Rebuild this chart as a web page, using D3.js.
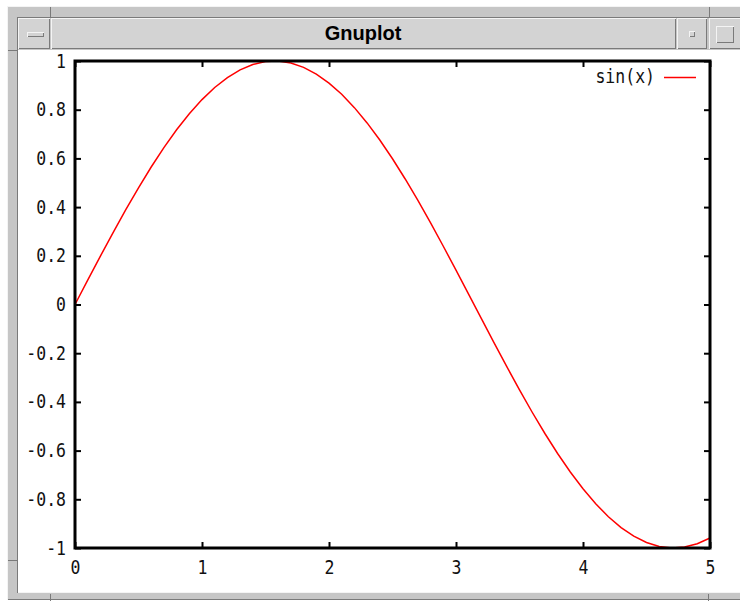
<!DOCTYPE html>
<html>
<head>
<meta charset="utf-8">
<script src="https://cdn.jsdelivr.net/npm/d3@7"></script>
<style>
  html, body { margin: 0; padding: 0; background: #fff; }
  svg { display: block; }
  .tick text { font-family: "DejaVu Sans Mono", "Liberation Mono", monospace; font-size: 16.5px; fill: #111; }
</style>
</head>
<body>
<svg width="740" height="604"></svg>
<script>
// sin(x) sampled on [0, 5]
const xs = [0.0, 0.1, 0.2, 0.3, 0.4, 0.5, 0.6, 0.7, 0.8, 0.9,
            1.0, 1.1, 1.2, 1.3, 1.4, 1.5, 1.6, 1.7, 1.8, 1.9,
            2.0, 2.1, 2.2, 2.3, 2.4, 2.5, 2.6, 2.7, 2.8, 2.9,
            3.0, 3.1, 3.2, 3.3, 3.4, 3.5, 3.6, 3.7, 3.8, 3.9,
            4.0, 4.1, 4.2, 4.3, 4.4, 4.5, 4.6, 4.7, 4.8, 4.9, 5.0];
const ys = [0, 0.0998, 0.1987, 0.2955, 0.3894, 0.4794, 0.5646, 0.6442, 0.7174, 0.7833,
            0.8415, 0.8912, 0.9320, 0.9636, 0.9854, 0.9975, 0.9996, 0.9917, 0.9738, 0.9463,
            0.9093, 0.8632, 0.8085, 0.7457, 0.6755, 0.5985, 0.5155, 0.4274, 0.3350, 0.2392,
            0.1411, 0.0416, -0.0584, -0.1577, -0.2555, -0.3508, -0.4425, -0.5298, -0.6119, -0.6878,
            -0.7568, -0.8183, -0.8716, -0.9162, -0.9516, -0.9775, -0.9937, -0.9999, -0.9962, -0.9825,
            -0.9589];
const xTicks = [0, 1, 2, 3, 4, 5];
const yTicks = [-1, -0.8, -0.6, -0.4, -0.2, 0, 0.2, 0.4, 0.6, 0.8, 1];
const seriesName = 'sin(x)';
const windowTitle = 'Gnuplot';

const svg = d3.select('svg');

// ---- window decoration (motif style) ----
const light = '#f4f4f4', dark = '#7a7a7a';

function bevel(g, x, y, w, h, fill, raised) {
    g.append('rect').attr('x', x).attr('y', y).attr('width', w).attr('height', h).attr('fill', fill);
    const hi = raised ? light : dark;
    const lo = raised ? dark : light;
    g.append('path').attr('d', `M${x + 0.5},${y + h - 0.5}V${y + 0.5}H${x + w - 0.5}`)
        .attr('stroke', hi).attr('fill', 'none');
    g.append('path').attr('d', `M${x + 0.5},${y + h - 0.5}H${x + w - 0.5}V${y + 0.5}`)
        .attr('stroke', lo).attr('fill', 'none');
}

const deco = svg.append('g').attr('shape-rendering', 'crispEdges');
bevel(deco, 7, 6, 760, 594, '#c6c6c6', true);
bevel(deco, 17, 17, 760, 576, '#c6c6c6', false);

// corner notches
[[50, 6, 50, 17], [7, 50, 17, 50], [7, 560, 17, 560], [50, 593, 50, 600],
 [709, 6, 709, 17], [708, 593, 708, 600]].forEach(([x1, y1, x2, y2]) => {
    deco.append('line').attr('x1', x1 + 0.5).attr('y1', y1 + 0.5).attr('x2', x2 + 0.5).attr('y2', y2 + 0.5)
        .attr('stroke', dark);
});

// menu button
bevel(deco, 18, 18, 32, 31, '#d3d3d3', true);
bevel(deco, 27, 32, 17, 5, '#d3d3d3', true);
// title bar
bevel(deco, 51, 18, 625, 31, '#d3d3d3', true);
// minimize / maximize
bevel(deco, 677, 18, 30, 31, '#d3d3d3', true);
bevel(deco, 689, 31, 6, 6, '#d3d3d3', true);
bevel(deco, 709, 18, 40, 31, '#d3d3d3', true);
bevel(deco, 716, 26, 18, 17, '#d3d3d3', true);

svg.append('text')
    .attr('x', 363).attr('y', 40)
    .attr('text-anchor', 'middle')
    .attr('font-family', 'Liberation Sans, Arial, sans-serif')
    .attr('font-weight', 'bold')
    .attr('font-size', 20)
    .attr('fill', '#000')
    .text(windowTitle);

// drawing area
svg.append('rect').attr('x', 18).attr('y', 50).attr('width', 740).attr('height', 542).attr('fill', '#fff');

// ---- plot ----
const plotLeft = 75, plotRight = 710, plotTop = 61, plotBottom = 548;
const x = d3.scaleLinear().domain([0, 5]).range([plotLeft, plotRight]);
const y = d3.scaleLinear().domain([-1, 1]).range([plotBottom, plotTop]);

const fmt = d => String(d);

const yAxis = svg.append('g').attr('transform', `translate(${plotLeft},0)`)
    .call(d3.axisLeft(y).tickValues(yTicks).tickSize(-6).tickPadding(9).tickFormat(fmt));
const xAxis = svg.append('g').attr('transform', `translate(0,${plotBottom})`)
    .call(d3.axisBottom(x).tickValues(xTicks).tickSize(-6).tickPadding(11).tickFormat(fmt));
const yMirror = svg.append('g').attr('transform', `translate(${plotRight},0)`)
    .call(d3.axisRight(y).tickValues(yTicks).tickSize(-6).tickFormat(''));
const xMirror = svg.append('g').attr('transform', `translate(0,${plotTop})`)
    .call(d3.axisTop(x).tickValues(xTicks).tickSize(-6).tickFormat(''));

[yAxis, xAxis, yMirror, xMirror].forEach(g => {
    g.select('.domain').remove();
    g.selectAll('.tick line').attr('stroke', '#000').attr('stroke-width', 2);
});
// tall, narrow terminal font
[yAxis, xAxis].forEach(g => g.selectAll('.tick text').attr('transform', 'scale(1,1.15)'));

// curve
const line = d3.line()
    .x((d, i) => x(xs[i]))
    .y((d) => y(d));

svg.append('path')
    .attr('d', line(ys))
    .attr('fill', 'none')
    .attr('stroke', '#ff0000')
    .attr('stroke-width', 1.5);

// border
svg.append('rect')
    .attr('x', plotLeft).attr('y', plotTop)
    .attr('width', plotRight - plotLeft).attr('height', plotBottom - plotTop)
    .attr('fill', 'none')
    .attr('stroke', '#000')
    .attr('stroke-width', 3);

// key
svg.append('text')
    .attr('x', 655).attr('y', 72)
    .attr('text-anchor', 'end')
    .attr('transform', 'scale(1,1.15)')
    .attr('font-family', 'DejaVu Sans Mono, Liberation Mono, monospace')
    .attr('font-size', 16.5)
    .attr('fill', '#111')
    .text(seriesName);
svg.append('line')
    .attr('x1', 664).attr('x2', 696)
    .attr('y1', 77.5).attr('y2', 77.5)
    .attr('stroke', '#ff0000')
    .attr('stroke-width', 1.5);
</script>
</body>
</html>
